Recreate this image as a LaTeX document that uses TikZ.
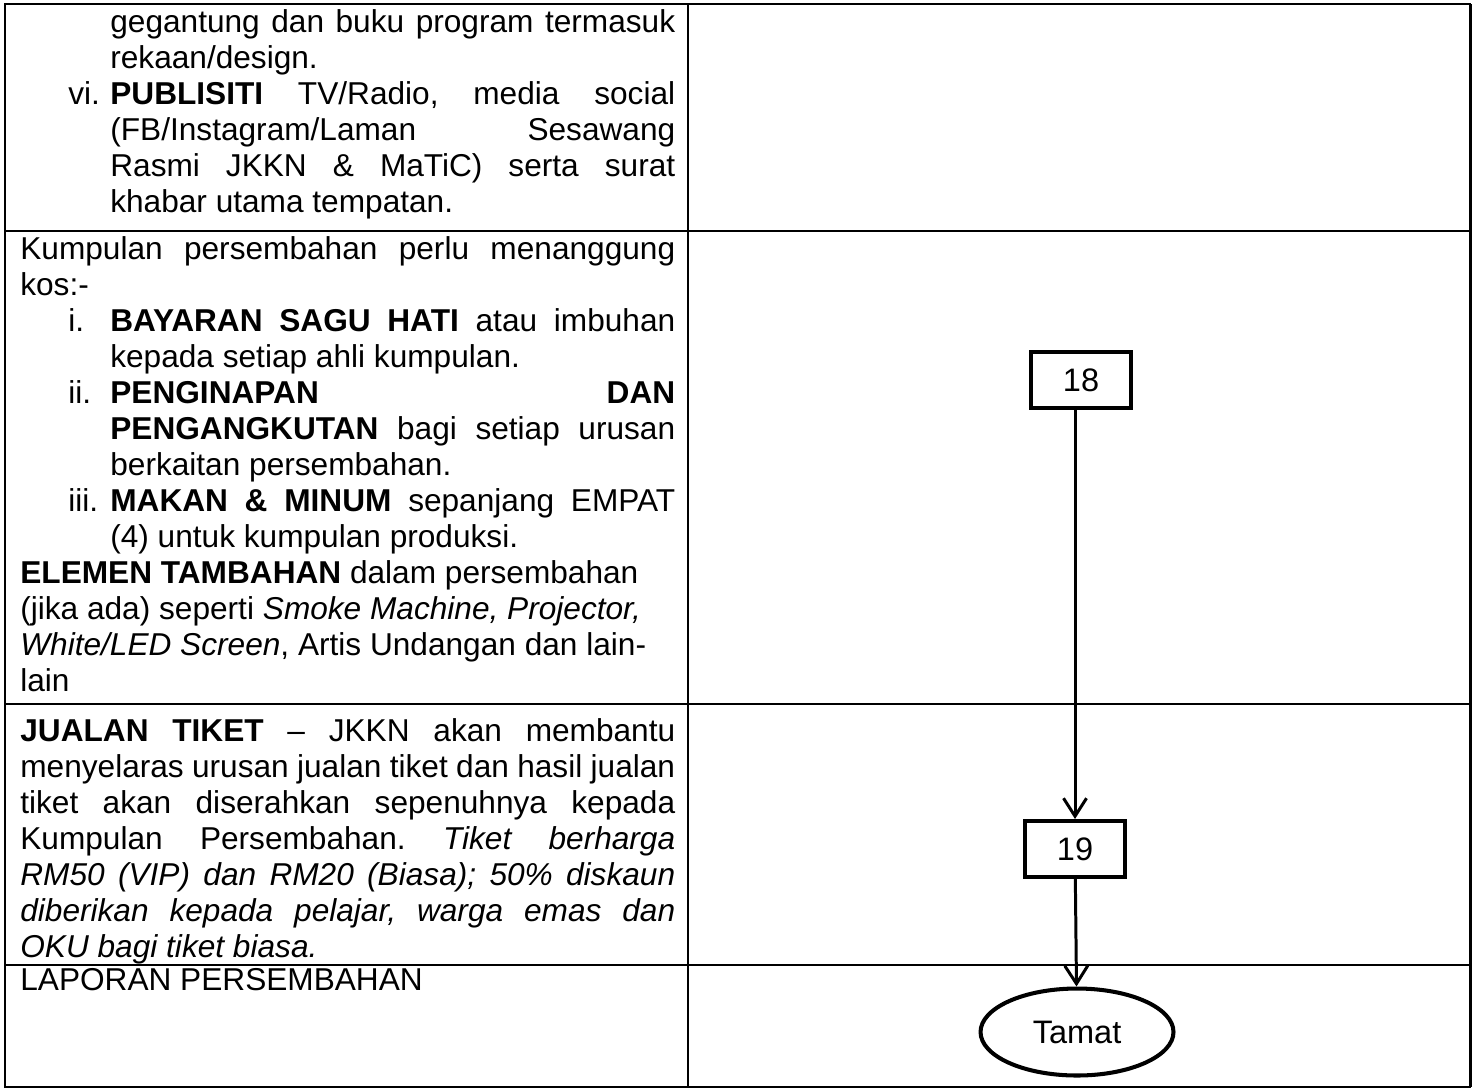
\documentclass[tikz,border=0pt]{standalone}
\usepackage{fontspec}
\setmainfont{Liberation Sans}
\usetikzlibrary{shapes.geometric,positioning,arrows.meta}

\newcommand{\itemno}[1]{\noindent\llap{\makebox[0.84cm][l]{#1}}}
\hbadness=10000
\tolerance=9999
\frenchspacing

\begin{document}
\begin{tikzpicture}[x=0.02cm, y=-0.02cm,
    celltext/.style={anchor=north west, inner sep=0pt, text width=13.1cm, align=justify,
      font=\fontsize{18}{20.5}\selectfont},
    stepbox/.style={rectangle, draw, line width=2.3pt, minimum width=2.0cm, minimum height=1.12cm,
      font=\fontsize{18.5}{20.5}\selectfont},
    endbox/.style={ellipse, draw, line width=2.3pt, minimum width=3.86cm, minimum height=1.74cm,
      font=\fontsize{18.5}{20.5}\selectfont},
    flow/.style={line width=1.7pt, -{Straight Barb[length=3.6mm, width=4.6mm]}},
    rule/.style={line width=1.1pt}]
  \useasboundingbox (0, 0) rectangle (1473, 1090);
  % Table
  \draw[rule] (5, 4) rectangle (1470, 1087);
  \draw[line width=1.7pt] (1470, 4) -- (1470, 1087);
  \draw[rule] (688, 4) -- (688, 1087);
  \draw[rule] (5, 231) -- (1470, 231);
  \draw[rule] (5, 704) -- (1470, 704);
  \draw[rule] (5, 965) -- (1470, 965);
  % Cell texts
  \node (publicity) [celltext] at (20, 7) {%
    {\leftskip=1.8cm\noindent\strut gegantung dan buku program termasuk\linebreak
      rekaan/design.\par}
    {\leftskip=1.8cm\itemno{vi.}\textbf{PUBLISITI} TV/Radio, media social\linebreak
      (FB/Instagram/Laman Sesawang\linebreak
      Rasmi JKKN \& MaTiC) serta surat\linebreak
      khabar utama tempatan.\par}};
  \node (costs) [celltext] at (20, 234) {%
    \noindent\strut Kumpulan persembahan perlu menanggung\linebreak kos:-\par
    {\leftskip=1.8cm\itemno{i.}\textbf{BAYARAN SAGU HATI} atau imbuhan\linebreak
      kepada setiap ahli kumpulan.\par}
    {\leftskip=1.8cm\itemno{ii.}\textbf{PENGINAPAN DAN}\linebreak
      \textbf{PENGANGKUTAN} bagi setiap urusan\linebreak
      berkaitan persembahan.\par}
    {\leftskip=1.8cm\itemno{iii.}\textbf{MAKAN \& MINUM} sepanjang EMPAT\linebreak
      (4) untuk kumpulan produksi.\par}
    \noindent\textbf{ELEMEN TAMBAHAN} dalam persembahan\newline
    (jika ada) seperti \textit{Smoke Machine, Projector,}\newline
    \textit{White/LED Screen}, Artis Undangan dan lain-\newline
    lain\par};
  \node (tickets) [celltext] at (20, 716) {%
    \noindent\strut\textbf{JUALAN TIKET} – JKKN akan membantu\linebreak
    menyelaras urusan jualan tiket dan hasil jualan\linebreak
    tiket akan diserahkan sepenuhnya kepada\linebreak
    Kumpulan Persembahan. \textit{Tiket berharga\linebreak
    RM50 (VIP) dan RM20 (Biasa); 50\% diskaun\linebreak
    diberikan kepada pelajar, warga emas dan\linebreak
    OKU bagi tiket biasa.}\par};
  \node (report) [celltext] at (20, 965) {\noindent\strut LAPORAN PERSEMBAHAN};
  % Flow
  \node (step18) [stepbox] at (1081, 380) {18};
  \node (step19) [stepbox] at (1075, 849) {19};
  \node (tamat) [endbox] at (1077, 1032) {Tamat};
  % Arrow
  \draw[flow] (step18.south -| step19) -- (step19);
  \draw[flow] (step19) -- (tamat);
\end{tikzpicture}
\end{document}
